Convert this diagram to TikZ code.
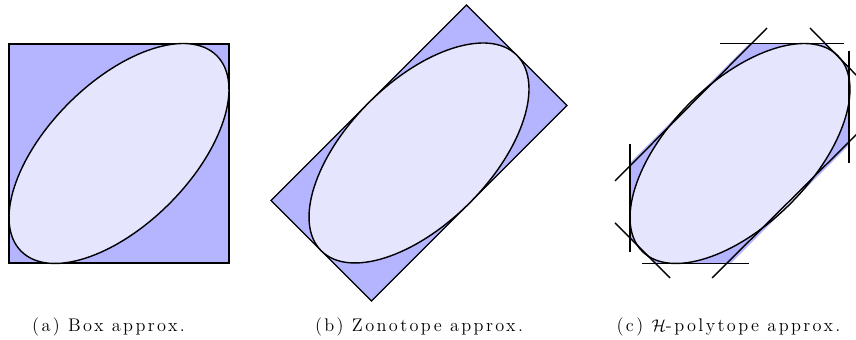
\documentclass[tikz,border=0pt]{standalone}
\usepackage{xcolor}
\usepackage{amsmath}
\usepackage{amssymb}
\usepackage{fontspec}
\usepackage{tikz}
\usetikzlibrary{calc}
\newfontfamily\capfont{Latin Modern Roman}[LetterSpace=13]
\definecolor{polyfill}{HTML}{B4B4FF}
\definecolor{ellfill}{HTML}{E5E5FD}
\newcommand{\majr}{138.3}
\newcommand{\minr}{71.1}
\tikzset{
  outerset/.style={fill=polyfill, draw=black, line width=0.9pt},
  innerset/.style={fill=ellfill, draw=black, line width=1pt},
  halfplane/.style={draw=black, line width=1pt},
  subcap/.style={font=\capfont\fontsize{13}{15}\selectfont, anchor=center},
}

\begin{document}
\begin{tikzpicture}[x=0.025cm, y=0.025cm]
  \clip (0,0) rectangle (856,340);

  \coordinate (ca) at (119,186.5);
  \coordinate (cb) at (419,187);
  \coordinate (cc) at (740,186.5);

  % (a) box
  \draw[outerset] ($(ca)+(-110,-109.5)$) rectangle ($(ca)+(110,109.5)$);
  \draw[innerset, shift={(ca)}, rotate=45] (0,0) ellipse [x radius=\majr, y radius=\minr];

  % (b) zonotope
  \draw[outerset, shift={(cb)}, rotate=45] (-\majr,-\minr) rectangle (\majr,\minr);
  \draw[innerset, shift={(cb)}, rotate=45] (0,0) ellipse [x radius=\majr, y radius=\minr];

  % (c) H-polytope
  \begin{scope}
    \clip[shift={(cc)}, rotate=45] (-\majr,-\minr) rectangle (\majr,\minr);
    \fill[polyfill] ($(cc)+(-110,-109.5)$) rectangle ($(cc)+(110,109.5)$);
  \end{scope}
  \draw[innerset, shift={(cc)}, rotate=45] (0,0) ellipse [x radius=\majr, y radius=\minr];
  \begin{scope}[shift={(cc)}]
    \draw[halfplane] (-20,110) -- (104,110);
    \draw[halfplane] (-98,-110) -- (9,-110);
    \draw[halfplane] (109,102.5) -- (109,-9.5);
    \draw[halfplane] (-110,9.5) -- (-110,-98.5);
    \draw[halfplane] (-125,-27.5) -- (27,125.5);
    \draw[halfplane] (-28,-124.5) -- (125,27.5);
    \draw[halfplane] (70,125.5) -- (125,69.5);
    \draw[halfplane] (-125,-69.5) -- (-70,-124.5);
  \end{scope}

  \node[subcap] (capa) at (108.5,13) {(a) Box approx.};
  \node[subcap] (capb) at (419,13) {(b) Zonotope approx.};
  \node[subcap] (capc) at (728.5,13) {(c) $\mathcal{H}$-polytope approx.};
\end{tikzpicture}
\end{document}
